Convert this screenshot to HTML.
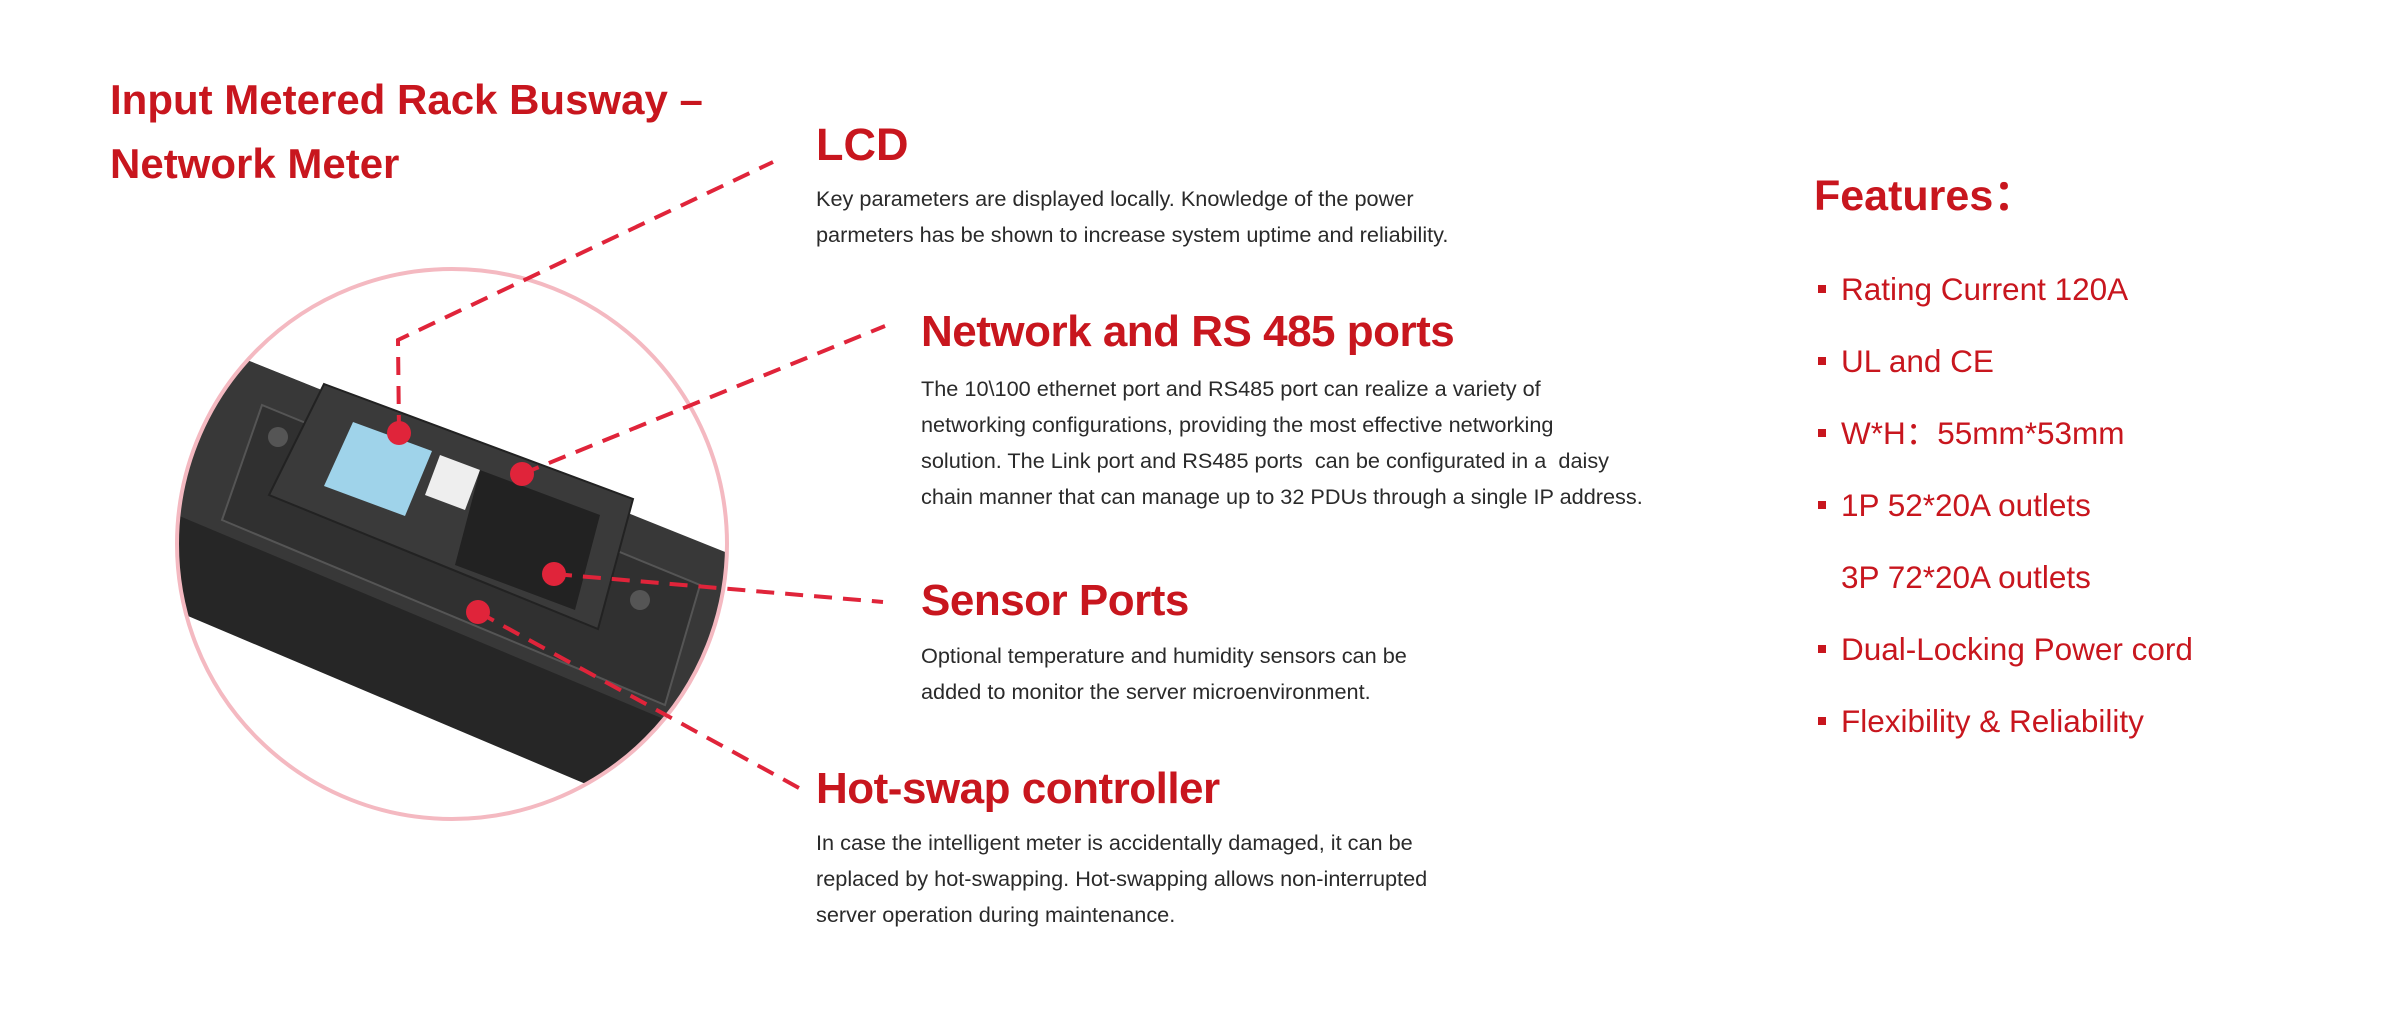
<!DOCTYPE html>
<html><head><meta charset="utf-8"><style>
body{margin:0;width:2400px;height:1020px;background:#fff;overflow:hidden;position:relative;font-family:"Liberation Sans",sans-serif}
.t{position:absolute;white-space:nowrap;line-height:1}
.h{color:#c8161e;font-weight:bold}
.b{color:#2a2a2a;font-size:21.7px}
.f{color:#c8161e;font-size:31.5px}
.sq{position:absolute;width:8px;height:8px;background:#c8161e}
</style></head><body>
<div class="t h" style="left:110px;top:79px;font-size:42px">Input Metered Rack Busway –</div>
<div class="t h" style="left:110px;top:143px;font-size:42px">Network Meter</div>

<div class="t h" style="left:816px;top:122px;font-size:45px">LCD</div>
<div class="t b" style="left:816px;top:188px">Key parameters are displayed locally. Knowledge of the power</div>
<div class="t b" style="left:816px;top:224px">parmeters has be shown to increase system uptime and reliability.</div>

<div class="t h" style="left:921px;top:310px;font-size:44px;letter-spacing:-0.5px">Network and RS 485 ports</div>
<div class="t b" style="left:921px;top:378px">The 10\100 ethernet port and RS485 port can realize a variety of</div>
<div class="t b" style="left:921px;top:414px">networking configurations, providing the most effective networking</div>
<div class="t b" style="left:921px;top:450px">solution. The Link port and RS485 ports&nbsp; can be configurated in a&nbsp; daisy</div>
<div class="t b" style="left:921px;top:486px">chain manner that can manage up to 32 PDUs through a single IP address.</div>

<div class="t h" style="left:921px;top:579px;font-size:44px;letter-spacing:-0.5px">Sensor Ports</div>
<div class="t b" style="left:921px;top:645px">Optional temperature and humidity sensors can be</div>
<div class="t b" style="left:921px;top:681px">added to monitor the server microenvironment.</div>

<div class="t h" style="left:816px;top:767px;font-size:44px;letter-spacing:-0.5px">Hot-swap controller</div>
<div class="t b" style="left:816px;top:832px">In case the intelligent meter is accidentally damaged, it can be</div>
<div class="t b" style="left:816px;top:868px">replaced by hot-swapping. Hot-swapping allows non-interrupted</div>
<div class="t b" style="left:816px;top:904px">server operation during maintenance.</div>

<div class="t h" style="left:1814px;top:175px;font-size:43px">Features：</div>
<div class="sq" style="left:1818px;top:285px"></div><div class="t f" style="left:1841px;top:274px">Rating Current 120A</div>
<div class="sq" style="left:1818px;top:357px"></div><div class="t f" style="left:1841px;top:346px">UL and CE</div>
<div class="sq" style="left:1818px;top:429px"></div><div class="t f" style="left:1841px;top:418px">W*H：55mm*53mm</div>
<div class="sq" style="left:1818px;top:501px"></div><div class="t f" style="left:1841px;top:490px">1P 52*20A outlets</div>
<div class="t f" style="left:1841px;top:562px">3P 72*20A outlets</div>
<div class="sq" style="left:1818px;top:645px"></div><div class="t f" style="left:1841px;top:634px">Dual-Locking Power cord</div>
<div class="sq" style="left:1818px;top:717px"></div><div class="t f" style="left:1841px;top:706px">Flexibility &amp; Reliability</div>

<svg style="position:absolute;left:0;top:0" width="2400" height="1020">
<defs><clipPath id="c"><circle cx="452" cy="544" r="275"/></clipPath></defs>
<g clip-path="url(#c)">
 <polygon points="242,358 780,575 780,820 600,790 150,600 150,350" fill="#262626"/>
 <polygon points="242,358 745,560 690,730 177,515 150,500 150,350" fill="#383838"/>
 <polygon points="262,405 700,585 665,705 222,520" fill="#303030" stroke="#555" stroke-width="2"/>
 <polygon points="324,384 633,499 598,629 269,495" fill="#3a3a3a" stroke="#222" stroke-width="2"/>
 <polygon points="353,422 432,451 405,516 324,486" fill="#9fd3ea"/>
 <polygon points="440,455 480,470 465,510 425,495" fill="#eee"/>
 <polygon points="480,470 600,515 575,610 455,565" fill="#222"/>
 <circle cx="278" cy="437" r="10" fill="#555"/>
 <circle cx="640" cy="600" r="10" fill="#555"/>
</g>
<circle cx="452" cy="544" r="275" fill="none" stroke="#f4b9c1" stroke-width="4"/>
<g stroke="#e0243a" stroke-width="4" stroke-dasharray="18,11" fill="none">
 <polyline points="399,433 398,340 773,162"/>
 <line x1="522" y1="474" x2="885" y2="326"/>
 <line x1="554" y1="574" x2="883" y2="602"/>
 <line x1="478" y1="612" x2="799" y2="788"/>
</g>
<g fill="#e0243a">
 <circle cx="399" cy="433" r="12"/><circle cx="522" cy="474" r="12"/>
 <circle cx="554" cy="574" r="12"/><circle cx="478" cy="612" r="12"/>
</g>
</svg>
</body></html>
